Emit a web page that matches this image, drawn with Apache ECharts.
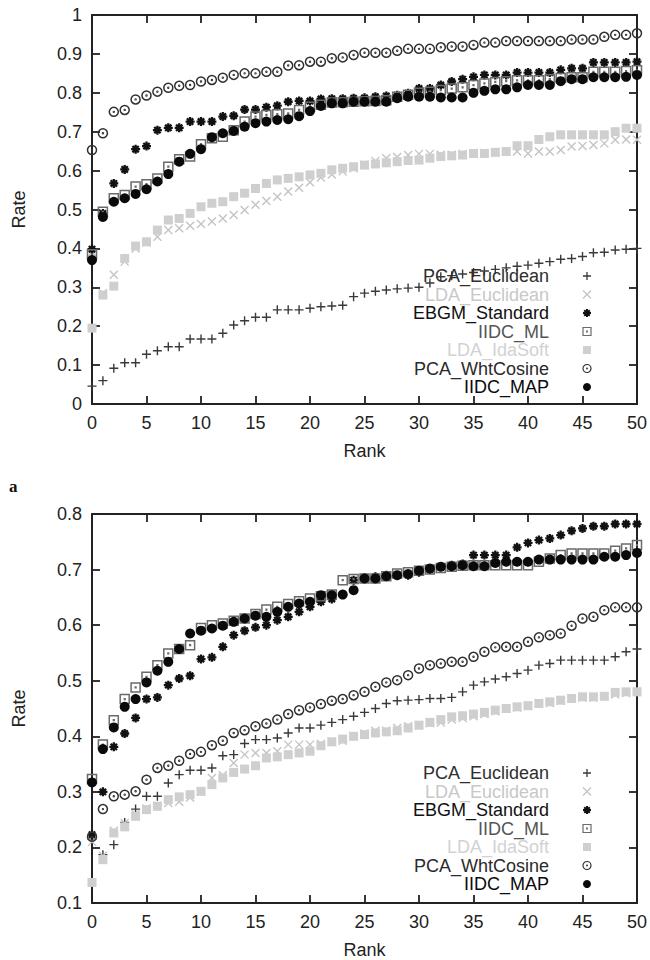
<!DOCTYPE html>
<html><head><meta charset="utf-8">
<script src="https://cdn.jsdelivr.net/npm/echarts@6/dist/echarts.min.js"></script>
<style>html,body{margin:0;padding:0;background:#fff}#c{width:650px;height:960px}</style>
</head><body><div id="c"></div>
<script>
// ---------- data ----------
const ranks = [0,1,2,3,4,5,6,7,8,9,10,11,12,13,14,15,16,17,18,19,20,21,22,23,24,25,26,27,28,29,30,31,32,33,34,35,36,37,38,39,40,41,42,43,44,45,46,47,48,49,50];
const seriesNames = ['PCA_Euclidean','LDA_Euclidean','EBGM_Standard','IIDC_ML','LDA_IdaSoft','PCA_WhtCosine','IIDC_MAP'];
const xAxisRange = [0, 50, 5];          // min, max, step
const topYRange = [0, 1, 0.1];
const bottomYRange = [0.1, 0.8, 0.1];
const xTitle = 'Rank';
const yTitle = 'Rate';
const panelLabel = 'a';

// chart (a)
const topPcaEuclidean = [0.046,0.06,0.092,0.106,0.106,0.128,0.137,0.147,0.147,0.167,0.167,0.167,0.182,0.203,0.214,0.223,0.223,0.242,0.242,0.242,0.246,0.25,0.252,0.254,0.276,0.285,0.29,0.293,0.296,0.298,0.30,0.311,0.327,0.33,0.334,0.338,0.342,0.346,0.35,0.354,0.357,0.362,0.366,0.372,0.374,0.379,0.389,0.39,0.396,0.398,0.40];
const topLdaEuclidean = [0.39,0.285,0.332,0.366,0.40,0.415,0.43,0.447,0.452,0.458,0.463,0.469,0.477,0.486,0.499,0.512,0.522,0.533,0.546,0.556,0.57,0.582,0.59,0.598,0.606,0.615,0.625,0.632,0.635,0.64,0.643,0.643,0.641,0.641,0.643,0.645,0.645,0.647,0.649,0.649,0.644,0.649,0.649,0.653,0.662,0.663,0.666,0.67,0.679,0.68,0.679];
const topEbgmStandard = [0.398,0.49,0.567,0.603,0.655,0.663,0.704,0.71,0.71,0.726,0.726,0.726,0.739,0.741,0.757,0.757,0.763,0.767,0.777,0.779,0.779,0.784,0.785,0.785,0.786,0.787,0.79,0.792,0.794,0.799,0.811,0.811,0.82,0.829,0.835,0.841,0.846,0.846,0.846,0.852,0.852,0.852,0.852,0.859,0.863,0.863,0.878,0.878,0.878,0.878,0.88];
const topIidcMl = [0.385,0.494,0.529,0.537,0.559,0.565,0.58,0.61,0.629,0.636,0.668,0.683,0.687,0.704,0.726,0.739,0.743,0.745,0.747,0.756,0.764,0.769,0.775,0.776,0.777,0.778,0.779,0.781,0.79,0.795,0.80,0.803,0.807,0.811,0.814,0.82,0.824,0.828,0.83,0.832,0.832,0.832,0.835,0.838,0.84,0.84,0.854,0.854,0.854,0.856,0.858];
const topLdaIdaSoft = [0.195,0.28,0.303,0.374,0.406,0.417,0.447,0.473,0.477,0.49,0.507,0.516,0.52,0.533,0.542,0.554,0.567,0.576,0.58,0.584,0.589,0.593,0.602,0.606,0.61,0.614,0.617,0.62,0.623,0.626,0.627,0.632,0.636,0.638,0.64,0.644,0.644,0.647,0.649,0.664,0.664,0.68,0.687,0.692,0.692,0.692,0.692,0.692,0.70,0.709,0.709];
const topPcaWhtCosine = [0.653,0.696,0.751,0.756,0.783,0.793,0.803,0.813,0.818,0.82,0.829,0.833,0.839,0.846,0.85,0.85,0.854,0.854,0.87,0.871,0.88,0.88,0.889,0.891,0.897,0.903,0.903,0.903,0.908,0.913,0.913,0.913,0.917,0.919,0.919,0.923,0.929,0.929,0.933,0.933,0.933,0.933,0.933,0.933,0.937,0.937,0.937,0.944,0.949,0.949,0.953];
const topIidcMap = [0.37,0.481,0.52,0.529,0.54,0.552,0.572,0.591,0.623,0.643,0.655,0.686,0.696,0.702,0.713,0.722,0.726,0.73,0.732,0.74,0.753,0.766,0.773,0.773,0.777,0.777,0.777,0.777,0.786,0.79,0.79,0.79,0.788,0.788,0.788,0.80,0.805,0.809,0.809,0.814,0.82,0.82,0.82,0.83,0.835,0.835,0.84,0.84,0.84,0.841,0.846];

// chart (b)
const botPcaEuclidean = [0.215,0.187,0.205,0.245,0.269,0.292,0.292,0.316,0.331,0.339,0.339,0.343,0.365,0.367,0.387,0.394,0.394,0.397,0.406,0.415,0.415,0.42,0.425,0.43,0.436,0.443,0.45,0.459,0.464,0.465,0.466,0.468,0.468,0.47,0.48,0.492,0.498,0.503,0.507,0.513,0.519,0.528,0.531,0.537,0.537,0.537,0.537,0.537,0.543,0.552,0.557];
const botLdaEuclidean = [0.21,0.185,0.23,0.244,0.26,0.27,0.275,0.28,0.282,0.29,0.30,0.325,0.33,0.352,0.367,0.37,0.37,0.373,0.385,0.385,0.385,0.386,0.39,0.392,0.40,0.405,0.41,0.41,0.415,0.418,0.42,0.424,0.425,0.43,0.433,0.436,0.44,0.445,0.45,0.452,0.455,0.46,0.46,0.464,0.468,0.47,0.47,0.472,0.475,0.478,0.48];
const botEbgmStandard = [0.223,0.30,0.381,0.405,0.433,0.467,0.47,0.492,0.504,0.509,0.539,0.542,0.561,0.582,0.59,0.596,0.60,0.609,0.615,0.624,0.633,0.642,0.647,0.655,0.681,0.685,0.687,0.69,0.69,0.69,0.695,0.70,0.705,0.708,0.71,0.726,0.726,0.726,0.726,0.74,0.748,0.753,0.756,0.762,0.77,0.774,0.778,0.778,0.782,0.782,0.782];
const botIidcMl = [0.323,0.385,0.429,0.467,0.488,0.507,0.528,0.549,0.557,0.564,0.595,0.60,0.603,0.608,0.612,0.62,0.628,0.633,0.638,0.643,0.648,0.652,0.655,0.681,0.683,0.684,0.684,0.688,0.693,0.695,0.698,0.70,0.703,0.705,0.707,0.708,0.708,0.708,0.708,0.708,0.708,0.714,0.72,0.726,0.729,0.729,0.729,0.729,0.734,0.738,0.744];
const botLdaIdaSoft = [0.137,0.178,0.226,0.237,0.256,0.268,0.274,0.286,0.291,0.295,0.301,0.313,0.325,0.335,0.341,0.347,0.361,0.363,0.367,0.37,0.373,0.383,0.39,0.395,0.40,0.403,0.406,0.408,0.41,0.415,0.42,0.425,0.43,0.435,0.437,0.44,0.443,0.447,0.45,0.453,0.455,0.459,0.462,0.465,0.468,0.471,0.471,0.472,0.479,0.48,0.48];
const botPcaWhtCosine = [0.219,0.269,0.292,0.295,0.301,0.322,0.343,0.347,0.356,0.368,0.372,0.384,0.392,0.406,0.411,0.418,0.423,0.43,0.44,0.447,0.452,0.458,0.464,0.467,0.474,0.48,0.489,0.497,0.501,0.51,0.522,0.528,0.531,0.534,0.534,0.543,0.552,0.56,0.561,0.561,0.57,0.578,0.582,0.585,0.599,0.612,0.615,0.627,0.632,0.632,0.632];
const botIidcMap = [0.317,0.377,0.416,0.453,0.467,0.497,0.518,0.534,0.557,0.585,0.59,0.594,0.599,0.606,0.612,0.617,0.615,0.624,0.633,0.639,0.642,0.654,0.654,0.655,0.663,0.684,0.684,0.688,0.69,0.692,0.698,0.702,0.705,0.706,0.708,0.706,0.706,0.712,0.714,0.714,0.714,0.718,0.718,0.718,0.718,0.718,0.718,0.723,0.723,0.726,0.73];

const topSeries = [topPcaEuclidean, topLdaEuclidean, topEbgmStandard, topIidcMl, topLdaIdaSoft, topPcaWhtCosine, topIidcMap];
const botSeries = [botPcaEuclidean, botLdaEuclidean, botEbgmStandard, botIidcMl, botLdaIdaSoft, botPcaWhtCosine, botIidcMap];

// ---------- styles ----------
const PLUS = 'path://M0,5L10,5M5,0L5,10';
const CROSS = 'path://M0,0L10,10M0,10L10,0';
const STAR = 'path://M0,5L10,5M5,0L5,10M1.5,1.5L8.5,8.5M1.5,8.5L8.5,1.5';
const OSQ = 'path://M0,0L10,0L10,10L0,10ZM4.6,4.6L5.4,4.6L5.4,5.4L4.6,5.4Z';
const FSQ = 'path://M0,0L10,0L10,10L0,10Z';
const OCIRC = 'path://M5,0A5,5,0,1,1,5,10A5,5,0,1,1,5,0ZM5,4.5A0.5,0.5,0,1,1,5,5.5A0.5,0.5,0,1,1,5,4.5Z';
const looks = [
  {sym: PLUS,  size: 9, fill: 'rgba(0,0,0,0)', stroke: '#3a3a3a', bw: 1.4, lbw: 1.3, text: '#2e2e2e'},
  {sym: CROSS, size: 8, fill: 'rgba(0,0,0,0)', stroke: '#c4c4c4', bw: 1.4, lbw: 1.3, text: '#c8c8c8'},
  {sym: STAR,  size: 9, fill: 'rgba(0,0,0,0)', stroke: '#111111', bw: 2.3, lbw: 2.0, text: '#111111'},
  {sym: OSQ,   size: 9, fill: 'rgba(0,0,0,0)', stroke: '#6a6a6a', bw: 1.5, lbw: 1.2, text: '#555555'},
  {sym: FSQ,   size: 9, fill: '#cfcfcf', stroke: '#cfcfcf', bw: 0, lbw: 0, text: '#d2d2d2'},
  {sym: OCIRC, size: 9, fill: 'rgba(0,0,0,0)', stroke: '#303030', bw: 1.5, lbw: 1.2, text: '#2a2a2a'},
  {sym: 'circle', size: 10, fill: '#0a0a0a', stroke: '#0a0a0a', bw: 0, lbw: 0, text: '#0a0a0a'}
];

const FONT = 'Liberation Sans';
const AX = '#222';
const G = [{top: 15}, {top: 514}];
const PLOT_H = 389;

const grids = G.map(g => ({left: 92, width: 545, top: g.top, height: PLOT_H, outerBoundsMode: 'none', containLabel: false}));

const xAxes = [], yAxes = [];
[0,1].forEach(gi => {
  const yr = gi === 0 ? topYRange : bottomYRange;
  const common = {type: 'value', gridIndex: gi, splitLine: {show: false},
    axisLine: {show: true, onZero: false, lineStyle: {color: AX, width: 2}},
    axisTick: {show: true, inside: true, length: 8, lineStyle: {color: AX, width: 1.8}}};
  xAxes.push(Object.assign({}, common, {position: 'bottom', min: xAxisRange[0], max: xAxisRange[1], interval: xAxisRange[2],
    name: xTitle, nameLocation: 'middle', nameGap: 38,
    nameTextStyle: {fontFamily: FONT, fontSize: 18, color: AX},
    axisLabel: {margin: 10, fontFamily: FONT, fontSize: 18, color: AX}}));
  xAxes.push(Object.assign({}, common, {position: 'top', min: xAxisRange[0], max: xAxisRange[1], interval: xAxisRange[2],
    axisLabel: {show: false}}));
  yAxes.push(Object.assign({}, common, {position: 'left', min: yr[0], max: yr[1], interval: yr[2],
    name: yTitle, nameLocation: 'middle', nameGap: 64,
    nameTextStyle: {fontFamily: FONT, fontSize: 18, color: AX},
    axisLabel: {margin: 10, fontFamily: FONT, fontSize: 18, color: AX}}));
  yAxes.push(Object.assign({}, common, {position: 'right', min: yr[0], max: yr[1], interval: yr[2],
    axisLabel: {show: false}}));
});

const series = [];
[topSeries, botSeries].forEach((set, gi) => {
  set.forEach((vals, si) => {
    const L = looks[si];
    series.push({
      type: 'scatter', name: seriesNames[si],
      xAxisIndex: gi * 2, yAxisIndex: gi * 2,
      symbol: L.sym, symbolSize: L.size,
      itemStyle: {color: L.fill, borderColor: L.stroke, borderWidth: L.bw, opacity: 1},
      emphasis: {disabled: true},
      data: ranks.map((r, i) => [r, vals[i]])
    });
  });
});

const legendTops = [267, 764];
const legends = legendTops.map(t => ({
  orient: 'vertical', align: 'right', right: 58, top: t, padding: 0,
  itemWidth: 66, itemHeight: 8, itemGap: 0.5, selectedMode: false,
  textStyle: {fontFamily: FONT, fontSize: 18, lineHeight: 18},
  data: seriesNames.map((n, si) => ({
    name: n, icon: looks[si].sym,
    itemStyle: {color: looks[si].fill, borderColor: looks[si].stroke, borderWidth: looks[si].lbw},
    textStyle: {color: looks[si].text}
  }))
}));

const chart = echarts.init(document.getElementById('c'), null, {renderer: 'svg'});
chart.setOption({
  animation: false,
  backgroundColor: '#fff',
  grid: grids,
  xAxis: xAxes,
  yAxis: yAxes,
  legend: legends,
  series: series,
  graphic: [{type: 'text', left: 9, top: 478,
    style: {text: panelLabel, font: 'bold 17px "Liberation Serif"', fill: '#111'}}]
});
</script>
</body></html>
